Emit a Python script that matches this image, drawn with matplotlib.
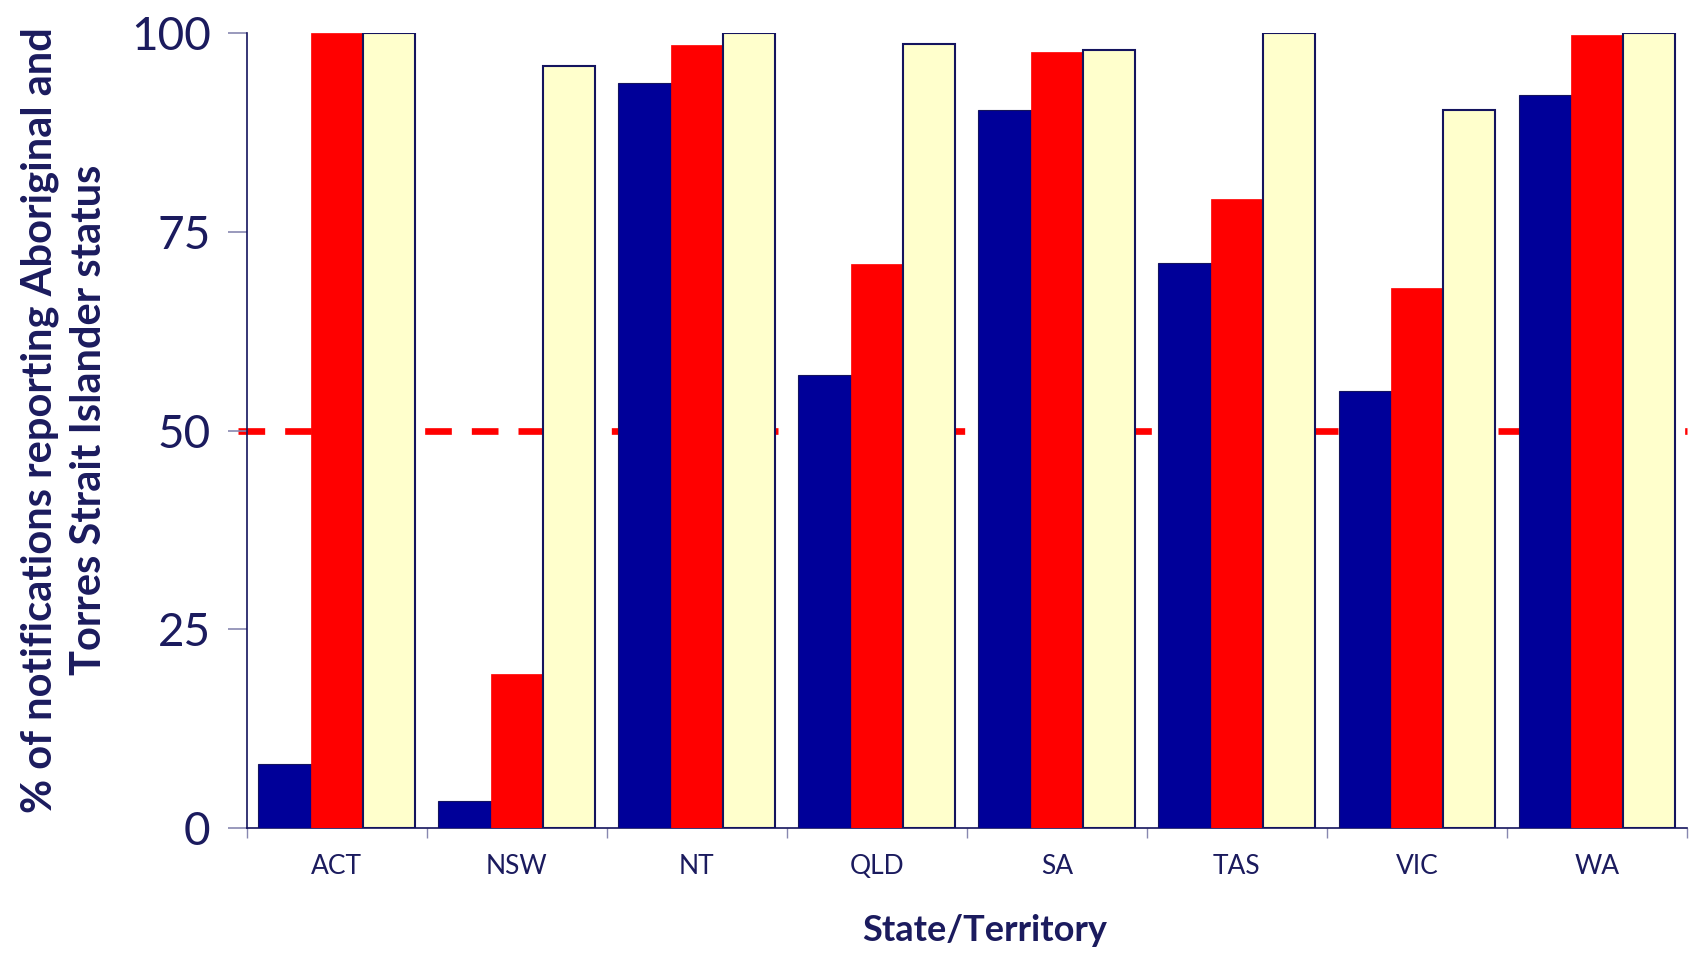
import numpy as np
import matplotlib
matplotlib.use("Agg")
import matplotlib.pyplot as plt

states = ["ACT", "NSW", "NT", "QLD", "SA", "TAS", "VIC", "WA"]
series_a = [8.0, 3.3, 93.7, 57.0, 90.4, 71.1, 55.0, 92.2]
series_b = [100.0, 19.3, 98.5, 71.0, 97.6, 79.1, 67.9, 99.8]
series_c = [100.0, 95.9, 100.0, 98.7, 97.9, 100.0, 90.3, 100.0]
yticks = [0, 25, 50, 75, 100]
target = 50

navy = "#000099"
red = "#ff0000"
cream = "#ffffcc"
ink = "#1b1b5e"

plt.rcParams["font.family"] = ["Lato", "DejaVu Sans"]

fig = plt.figure(figsize=(16.97, 9.55), dpi=100)
ax = fig.add_axes([0.1454, 0.1333, 0.8486, 0.8318])

x = np.arange(len(states)) + 0.5
w = 0.29
ax.bar(x - w, series_a, w, color=navy, edgecolor="#14145e", linewidth=0.8, zorder=3)
ax.bar(x, series_b, w, color=red, edgecolor=red, linewidth=0.5, zorder=3)
ax.bar(x + w, series_c, w, color=cream, edgecolor="#14145e", linewidth=1.5, zorder=3)

# 50% reference line, sits behind the bars
ax.plot([-0.05, len(states)], [target, target], color=red, lw=4.8,
        linestyle=(0, (4, 3)), clip_on=False, zorder=1)

ax.set_xlim(0, len(states))
ax.set_ylim(0, 100)
ax.set_yticks(yticks)
ax.set_yticklabels([str(t) for t in yticks], fontsize=33, color=ink)
ax.set_xticks(np.arange(len(states) + 1))
ax.set_xticklabels([])
ax.set_xticks(x, minor=True)
ax.set_xticklabels(states, minor=True, fontsize=19, color=ink)
ax.tick_params(axis="x", which="minor", length=0, pad=19)
ax.tick_params(axis="x", which="major", length=7, color="#8888b0", width=1)
ax.tick_params(axis="y", length=14, color="#8888b0", width=1.2, pad=12)

for s in ["top", "right"]:
    ax.spines[s].set_visible(False)
for s in ["left", "bottom"]:
    ax.spines[s].set_color("#14145e")
    ax.spines[s].set_linewidth(1.2)

fig.text(0.038, 0.56, "% of notifications reporting Aboriginal and\nTorres Strait Islander status",
         rotation=90, ha="center", va="center", fontsize=30, fontweight="bold",
         color=ink, linespacing=1.35)
fig.text(0.58, 0.026, "State/Territory", ha="center", va="center",
         fontsize=26, fontweight="bold", color=ink)

fig.savefig("out.png", dpi=100)
